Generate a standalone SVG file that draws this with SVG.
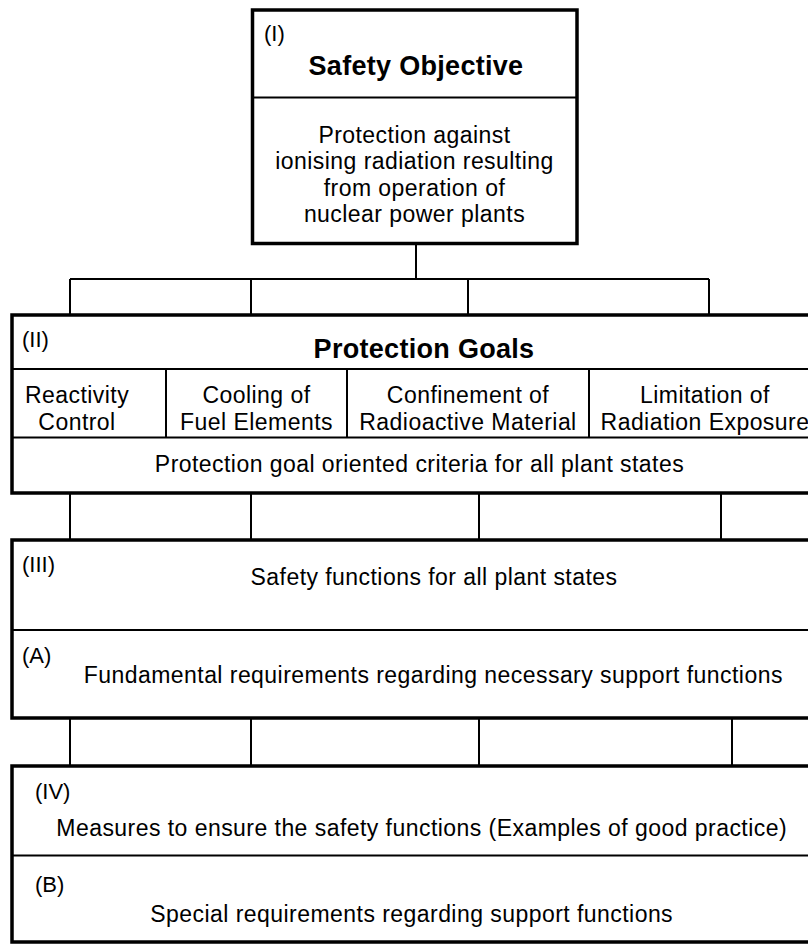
<svg xmlns="http://www.w3.org/2000/svg" width="808" height="944" viewBox="0 0 808 944">
<style>
.box{fill:#fff;stroke:#000;stroke-width:3.5}
.div{stroke:#000;stroke-width:2;fill:none}
.con{stroke:#000;stroke-width:2;fill:none}
text{font-family:"Liberation Sans",Arial,Helvetica,sans-serif;fill:#000}
.t{font-size:23px;letter-spacing:0.45px;text-anchor:middle}
.b{font-size:27px;font-weight:bold;letter-spacing:0.3px;text-anchor:middle}
.l{font-size:22px}
</style>
<rect width="808" height="944" fill="#fff"/>
<g id="connectors">
<path class="con" d="M416 243.5V279M70 279H709M70 279V315M251 279V315M468 279V315M709 279V315"/>
<path class="con" d="M70 493V540M251 493V540M479 493V540M721 493V540"/>
<path class="con" d="M70 718V766M251 718V766M479 718V766M732 718V766"/>
</g>
<g id="safety-objective">
<rect class="box" x="252.5" y="10" width="324.5" height="233.5"/>
<line class="div" x1="252.5" y1="97.5" x2="577" y2="97.5"/>
<text class="l" x="264" y="41">(I)</text>
<text class="b" x="416" y="75">Safety Objective</text>
<text class="t" x="414.5" y="143">Protection against</text>
<text class="t" x="414.5" y="169.3">ionising radiation resulting</text>
<text class="t" x="414.5" y="195.7">from operation of</text>
<text class="t" x="414.5" y="222">nuclear power plants</text>
</g>
<g id="protection-goals">
<rect class="box" x="12" y="315" width="830" height="178"/>
<line class="div" x1="12" y1="369" x2="842" y2="369"/>
<line class="div" x1="12" y1="437.5" x2="842" y2="437.5"/>
<line class="div" x1="166" y1="369" x2="166" y2="437.5"/>
<line class="div" x1="347" y1="369" x2="347" y2="437.5"/>
<line class="div" x1="589" y1="369" x2="589" y2="437.5"/>
<text class="l" x="22" y="347">(II)</text>
<text class="b" x="424" y="358">Protection Goals</text>
<text class="t" x="77" y="403">Reactivity</text>
<text class="t" x="77" y="430">Control</text>
<text class="t" x="256.5" y="403">Cooling of</text>
<text class="t" x="256.5" y="430">Fuel Elements</text>
<text class="t" x="468" y="403">Confinement of</text>
<text class="t" x="468" y="430">Radioactive Material</text>
<text class="t" x="705" y="403">Limitation of</text>
<text class="t" x="705" y="430">Radiation Exposure</text>
<text class="t" x="419.5" y="471.7">Protection goal oriented criteria for all plant states</text>
</g>
<g id="safety-functions">
<rect class="box" x="12" y="540" width="830" height="178"/>
<line class="div" x1="12" y1="630" x2="842" y2="630"/>
<text class="l" x="22" y="572">(III)</text>
<text class="t" x="434" y="585">Safety functions for all plant states</text>
<text class="l" x="22" y="662.5">(A)</text>
<text class="t" x="433.3" y="683">Fundamental requirements regarding necessary support functions</text>
</g>
<g id="measures">
<rect class="box" x="12" y="766" width="830" height="176"/>
<line class="div" x1="12" y1="855.5" x2="842" y2="855.5"/>
<text class="l" x="35" y="799">(IV)</text>
<text class="t" x="421.7" y="836">Measures to ensure the safety functions (Examples of good practice)</text>
<text class="l" x="35" y="892">(B)</text>
<text class="t" x="411.7" y="921.7">Special requirements regarding support functions</text>
</g>
</svg>
